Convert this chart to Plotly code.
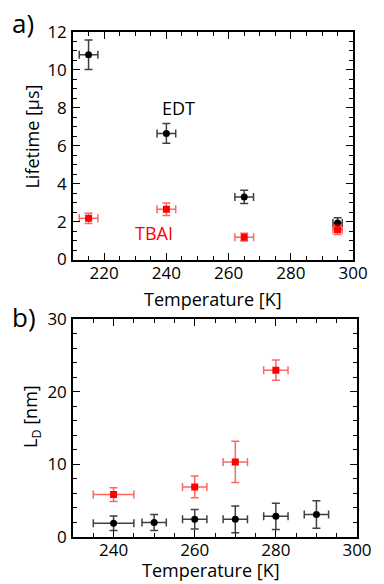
import plotly.graph_objects as go

# panel a: lifetime vs temperature
a_T_edt = [215, 240, 265, 295]
a_life_edt = [10.8, 6.65, 3.3, 1.92]
a_life_edt_err = [0.78, 0.52, 0.35, 0.28]
a_T_edt_err = [3, 3, 3, 1.5]

a_T_tbai = [215, 240, 265, 295]
a_life_tbai = [2.17, 2.65, 1.18, 1.57]
a_life_tbai_err = [0.27, 0.33, 0.2, 0.25]
a_T_tbai_err = [3, 3, 3, 1.5]

# panel b: diffusion length vs temperature
b_T_tbai = [240, 260, 270, 280]
b_ld_tbai = [5.85, 6.9, 10.35, 23.0]
b_ld_tbai_err = [0.95, 1.5, 2.85, 1.4]
b_T_tbai_err = [5, 3, 3, 3]

b_T_edt = [240, 250, 260, 270, 280, 290]
b_ld_edt = [1.9, 2.0, 2.45, 2.43, 2.85, 3.1]
b_ld_edt_err = [1.0, 1.1, 1.35, 1.85, 1.8, 1.9]
b_T_edt_err = [5, 3, 3, 3, 3, 3]

BLACK = "#000000"
RED = "#ff0000"
RED_BAR = "rgba(255,0,0,0.6)"
BLACK_BAR = "rgba(0,0,0,0.75)"
FONT = "Open Sans"

# page body has an 8px margin; plot area sits at left 73, top 22 (page px), 295 x 515
def px(x):
    return (x - 73) / 295

def py(y):
    return (537 - y) / 515


def series(x, y, xe, ye, color, bar_color, symbol, xa, ya):
    return go.Scatter(
        x=x, y=y, mode="markers", xaxis=xa, yaxis=ya, showlegend=False,
        marker=dict(color=color, size=7, symbol=symbol),
        error_x=dict(type="data", array=xe, color=bar_color, thickness=1.5, width=4),
        error_y=dict(type="data", array=ye, color=bar_color, thickness=1.5, width=4),
    )


fig = go.Figure()
fig.add_trace(series(a_T_edt, a_life_edt, a_T_edt_err, a_life_edt_err, BLACK, BLACK_BAR, "circle", "x", "y"))
fig.add_trace(series(a_T_tbai, a_life_tbai, a_T_tbai_err, a_life_tbai_err, RED, RED_BAR, "square", "x", "y"))
fig.add_trace(series(b_T_tbai, b_ld_tbai, b_T_tbai_err, b_ld_tbai_err, RED, RED_BAR, "square", "x2", "y2"))
fig.add_trace(series(b_T_edt, b_ld_edt, b_T_edt_err, b_ld_edt_err, BLACK, BLACK_BAR, "circle", "x2", "y2"))


def axis(rng, dtick, minor, domain, anchor, standoff):
    return dict(
        range=rng, dtick=dtick, tick0=0, domain=domain, anchor=anchor,
        showgrid=False, zeroline=False, showline=True, linecolor="black", linewidth=1.5,
        mirror="ticks", ticks="inside", ticklen=7, tickwidth=1, tickcolor="black",
        minor=dict(dtick=minor, ticks="inside", ticklen=4, tickwidth=1, tickcolor="black", showgrid=False),
        tickfont=dict(size=17, color="black"), ticklabelstandoff=standoff,
    )


fig.update_layout(
    width=376, height=576,
    margin=dict(l=65, r=16, t=14, b=47),
    plot_bgcolor="white", paper_bgcolor="white",
    font=dict(family=FONT, color="black"),
    xaxis=axis([210, 300], 20, 5, [0, 0.9865], "y", -3),
    yaxis=axis([0, 12], 2, 0.5, [0.5495, 1], "x", 1),
    xaxis2=axis([230, 300], 20, 5, [0, 1], "y2", -3),
    yaxis2=axis([0, 30], 10, 2, [0, 0.431], "x2", 1),
)

titles = [
    ("Temperature [K]", px(218), py(294), 0),
    ("Temperature [K]", px(216), py(571), 0),
    ("Lifetime [µs]", px(30), py(129), -90),
    ("L<sub>D</sub> [nm]", px(30), py(414), -90),
]
for text, x, y, ang in titles:
    fig.add_annotation(x=x, y=y, xref="paper", yref="paper", text=text, showarrow=False,
                       textangle=ang, xanchor="center", yanchor="middle",
                       font=dict(size=18, color="black"))

fig.add_annotation(x=244, y=8.0, xref="x", yref="y", text="EDT", showarrow=False,
                   font=dict(size=18, color="black"))
fig.add_annotation(x=236, y=1.4, xref="x", yref="y", text="TBAI", showarrow=False,
                   font=dict(size=18, color="red"))
fig.add_annotation(x=px(8), y=py(13), xref="paper", yref="paper", text="a)", showarrow=False,
                   xanchor="left", yanchor="middle", font=dict(size=26, color="black"))
fig.add_annotation(x=px(8), y=py(313), xref="paper", yref="paper", text="b)", showarrow=False,
                   xanchor="left", yanchor="middle", font=dict(size=26, color="black"))

fig.write_html("out.html")
